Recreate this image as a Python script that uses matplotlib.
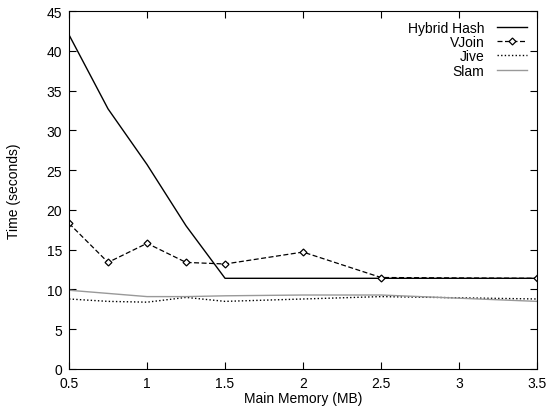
import matplotlib.pyplot as plt

plt.rcParams['font.family'] = ['Liberation Sans', 'DejaVu Sans']

memory = [0.5, 0.75, 1.0, 1.25, 1.5, 2.0, 2.5, 3.5]
hybrid_hash = [42.0, 32.7, 25.7, 18.0, 11.4, 11.4, 11.4, 11.4]
vjoin = [18.3, 13.4, 15.8, 13.4, 13.2, 14.7, 11.5, 11.4]
jive = [8.8, 8.5, 8.4, 9.0, 8.5, 8.8, 9.1, 8.8]
slam = [9.9, 9.5, 9.1, 9.1, 9.2, 9.3, 9.3, 8.5]

fig = plt.figure(figsize=(5.48, 4.10), dpi=100)
ax = fig.add_axes([0.126, 0.0976, 0.854, 0.873])

ax.plot(memory, hybrid_hash, color='black', lw=1, label='Hybrid Hash')
ax.plot(memory, vjoin, color='black', lw=0.9, linestyle=(0, (4, 2)), marker='D',
        markersize=3.5, markerfacecolor='white', markeredgewidth=0.9, label='VJoin')
ax.plot(memory, jive, color='black', lw=1, linestyle=(0, (1, 1.6)), label='Jive')
ax.plot(memory, slam, color='0.6', lw=1, label='Slam')

ax.set_xlim(0.5, 3.5)
ax.set_ylim(0, 45)
ax.set_xticks([0.5, 1, 1.5, 2, 2.5, 3, 3.5])
ax.set_xticklabels(['0.5', '1', '1.5', '2', '2.5', '3', '3.5'])
ax.set_yticks(range(0, 46, 5))
ax.tick_params(direction='in', top=True, right=True, length=5, labelsize=10, pad=5)
ax.set_xlabel('Main Memory (MB)', fontsize=10, labelpad=1)
ax.set_ylabel('Time (seconds)', fontsize=10, labelpad=18)

ax.legend(loc='upper right', frameon=False, markerfirst=False, fontsize=10,
          handlelength=2.2, labelspacing=0.02, borderaxespad=0.35, borderpad=0.35,
          handletextpad=0.9)

plt.savefig('out.png')
